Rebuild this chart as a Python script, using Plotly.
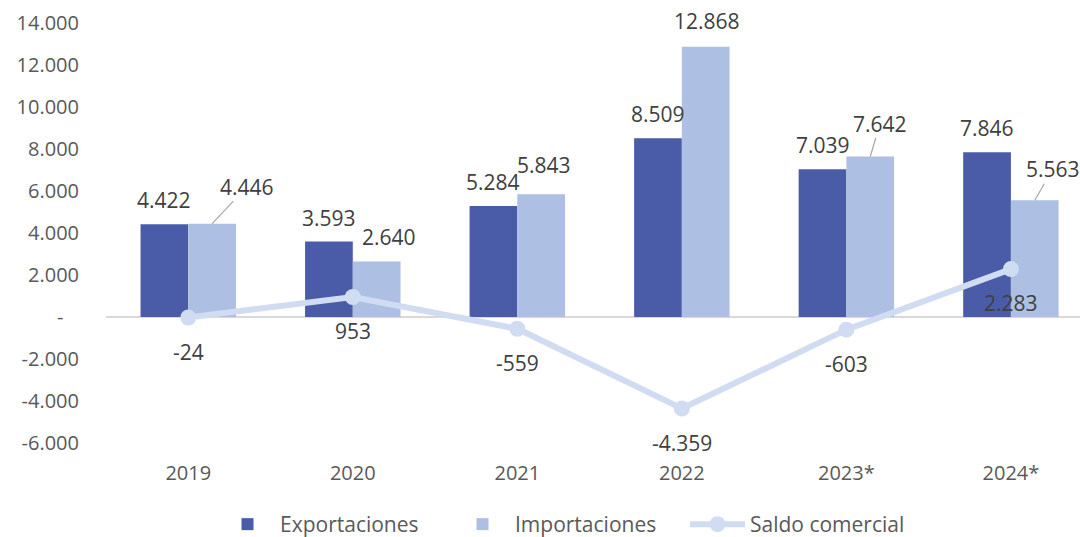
import plotly.graph_objects as go

years = ["2019", "2020", "2021", "2022", "2023*", "2024*"]
exportaciones = [4422, 3593, 5284, 8509, 7039, 7846]
importaciones = [4446, 2640, 5843, 12868, 7642, 5563]
saldo = [-24, 953, -559, -4359, -603, 2283]
y_tick_vals = [14000, 12000, 10000, 8000, 6000, 4000, 2000, 0, -2000, -4000, -6000]
y_tick_text = ["14.000", "12.000", "10.000", "8.000", "6.000", "4.000", "2.000",
               "-\u00a0\u00a0\u00a0", "-2.000", "-4.000", "-6.000"]

# label styling (pixel offsets of import labels, leader line flags)
imp_dx = [35, 12, 3, 1, 10, 18]
imp_dy = [37, 25, 29, 26, 33, 31]
imp_leader = [True, False, False, False, True, True]

C_EXP = "#4a5ba8"
C_IMP = "#adbfe3"
C_SAL = "#d0dcf1"
FONT = "Open Sans"
TXT = "#404040"
TICK = "#595959"
BARGAP = 0.42


def fmt(v):
    s = f"{abs(v):,}".replace(",", ".")
    return ("-" if v < 0 else "") + s


fig = go.Figure()
fig.add_trace(go.Bar(x=years, y=exportaciones, name="Exportaciones",
                     marker=dict(color=C_EXP, line=dict(width=0))))
fig.add_trace(go.Bar(x=years, y=importaciones, name="Importaciones",
                     marker=dict(color=C_IMP, line=dict(width=0))))
fig.add_trace(go.Scatter(x=years, y=saldo, name="Saldo comercial", mode="lines+markers",
                         line=dict(color=C_SAL, width=6),
                         marker=dict(color=C_SAL, size=16)))

anns = []
q = (1 - BARGAP) / 4
for i, v in enumerate(exportaciones):
    anns.append(dict(x=i - q, y=v, xref="x", yref="y", text=fmt(v), showarrow=False,
                     yanchor="middle", yshift=24,
                     font=dict(family=FONT, size=21, color=TXT)))
for i, v in enumerate(importaciones):
    if imp_leader[i]:
        anns.append(dict(x=i + q, y=v, xref="x", yref="y", text=fmt(v), showarrow=True,
                         arrowhead=0, arrowwidth=1.2, arrowcolor="#a6a6a6",
                         ax=imp_dx[i], ay=-imp_dy[i], standoff=0, borderpad=0,
                         font=dict(family=FONT, size=21, color=TXT)))
    else:
        anns.append(dict(x=i + q, y=v, xref="x", yref="y", text=fmt(v), showarrow=False,
                         yanchor="middle", xshift=imp_dx[i], yshift=imp_dy[i],
                         font=dict(family=FONT, size=21, color=TXT)))
for i, v in enumerate(saldo):
    anns.append(dict(x=i, y=v, xref="x", yref="y", text=fmt(v), showarrow=False,
                     yanchor="middle", yshift=-34,
                     font=dict(family=FONT, size=21, color=TXT)))

fig.update_layout(
    width=1080, height=537,
    margin=dict(l=106, r=0, t=23, b=94, autoexpand=False),
    paper_bgcolor="white", plot_bgcolor="white",
    barmode="group", bargap=BARGAP, bargroupgap=0,
    font=dict(family=FONT, size=21, color=TICK),
    annotations=anns,
    showlegend=True,
    legend=dict(orientation="h", xref="container", x=215 / 1080, xanchor="left",
                yref="container", y=1 - 504 / 537, yanchor="top",
                font=dict(family=FONT, size=21, color=TICK),
                itemwidth=55, entrywidth=165, entrywidthmode="pixels",
                traceorder="normal"),
    xaxis=dict(type="category", range=[-0.5, 5.42], showgrid=False, zeroline=False,
               showline=False, ticks="", ticklabelstandoff=16, automargin=False,
               tickfont=dict(family=FONT, size=20, color=TICK)),
    yaxis=dict(range=[-6000, 14000], tickvals=y_tick_vals, ticktext=y_tick_text,
               showgrid=False, zeroline=True, zerolinecolor="#d9d9d9", zerolinewidth=2,
               showline=False, ticks="", ticklabelstandoff=26, automargin=False,
               tickfont=dict(family=FONT, size=20, color=TICK)),
)

fig.write_html("out.html")
